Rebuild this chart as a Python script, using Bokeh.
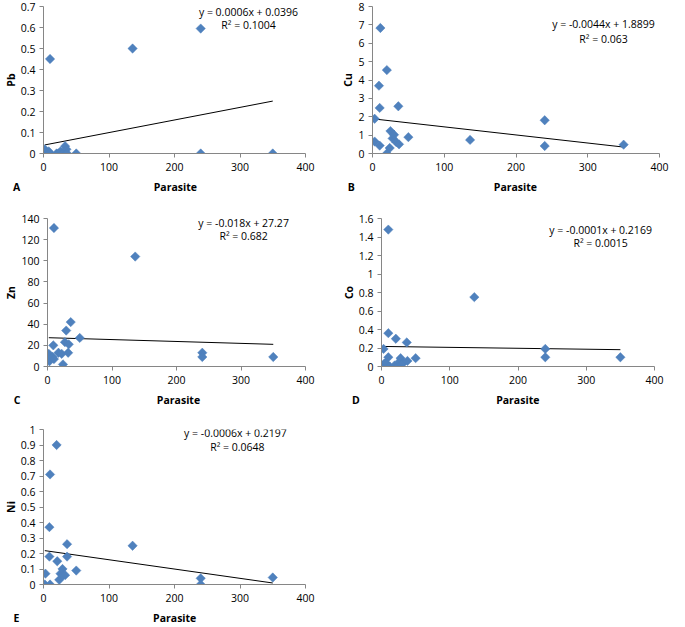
from math import pi
from bokeh.plotting import figure
from bokeh.layouts import column, row
from bokeh.models import Range1d, FixedTicker, NumeralTickFormatter, Label
from bokeh.embed import file_html
from bokeh.resources import INLINE

# ---------------- data ----------------
pb_x = [2, 3, 8, 10, 10, 20, 23, 26, 29, 33, 35, 36, 50, 136, 240, 240, 350]
pb_y = [0.02, 0, 0.01, 0.45, 0, 0, 0, 0.01, 0, 0.035, 0.02, 0, 0, 0.5, 0.595, 0, 0]

cu_x = [3, 3, 9, 10, 10, 11, 20, 20, 24, 25, 28, 30, 33, 36, 37, 50, 136, 240, 240, 350]
cu_y = [1.89, 0.65, 3.69, 2.48, 0.43, 6.83, 4.54, 0, 0.3, 1.22, 0.82, 1.02, 0.62, 2.57, 0.5, 0.89, 0.74, 1.81, 0.41, 0.48]

zn_x = [2, 3, 8, 9, 10, 10, 17, 22, 24, 27, 29, 32, 33, 36, 50, 136, 240, 240, 350]
zn_y = [12, 5, 9, 20, 131, 7, 13, 12, 2, 23, 34, 13, 21, 42, 27, 104, 13, 9, 9]

co_x = [3, 4, 6, 10, 10, 10, 12, 19, 21, 24, 26, 28, 30, 32, 37, 38, 50, 136, 240, 240, 350]
co_y = [0.19, 0.03, 0.04, 1.48, 0.36, 0.1, 0, 0.01, 0.3, 0, 0.05, 0.09, 0.03, 0.04, 0.26, 0.06, 0.09, 0.75, 0.19, 0.1, 0.1]

ni_x = [2, 3, 9, 9, 10, 10, 20, 21, 24, 26, 29, 30, 33, 36, 36, 50, 136, 240, 240, 350]
ni_y = [0, 0.07, 0.37, 0.18, 0.71, 0, 0.9, 0.15, 0.03, 0.07, 0.1, 0.06, 0.06, 0.26, 0.18, 0.09, 0.25, 0.04, 0, 0.045]

x_ticks = [0, 100, 200, 300, 400]
y_ticks = [
    [0, 0.1, 0.2, 0.3, 0.4, 0.5, 0.6, 0.7],
    [0, 1, 2, 3, 4, 5, 6, 7, 8],
    [0, 20, 40, 60, 80, 100, 120, 140],
    [0, 0.2, 0.4, 0.6, 0.8, 1, 1.2, 1.4, 1.6],
    [0, 0.1, 0.2, 0.3, 0.4, 0.5, 0.6, 0.7, 0.8, 0.9, 1],
]
slopes = [0.0006, -0.0044, -0.018, -0.0001, -0.0006]
intercepts = [0.0396, 1.8899, 27.27, 0.2169, 0.2197]
equations = ["y = 0.0006x + 0.0396", "y = -0.0044x + 1.8899", "y = -0.018x + 27.27",
             "y = -0.0001x + 0.2169", "y = -0.0006x + 0.2197"]
r2_texts = ["R\u00b2 = 0.1004", "R\u00b2 = 0.063", "R\u00b2 = 0.682", "R\u00b2 = 0.0015", "R\u00b2 = 0.0648"]
metals = ["Pb", "Cu", "Zn", "Co", "Ni"]
letters = ["A", "B", "C", "D", "E"]
x_label = "Parasite"

FONT = "Open Sans"
BLUE = "#4F81BD"
AXIS = "#868686"
NB = "\u00a0"

def panel(i, xs, ys, w, h, bl, br, bt, bb, eq_pos, r2_pos, gap):
    p = figure(width=w, height=h, output_backend="svg", toolbar_location=None,
               x_range=Range1d(0, 400), y_range=Range1d(0, y_ticks[i][-1]),
               min_border_left=bl, min_border_right=br, min_border_top=bt, min_border_bottom=bb)
    p.outline_line_color = None
    p.xgrid.grid_line_color = None
    p.ygrid.grid_line_color = None
    p.background_fill_color = "white"
    p.border_fill_color = "white"
    p.xaxis.ticker = FixedTicker(ticks=x_ticks)
    p.yaxis.ticker = FixedTicker(ticks=y_ticks[i])
    p.yaxis.formatter = NumeralTickFormatter(format="0.[0]")
    p.xaxis.formatter = NumeralTickFormatter(format="0")
    for ax in (p.xaxis, p.yaxis):
        ax.axis_line_color = AXIS
        ax.major_tick_line_color = AXIS
        ax.minor_tick_line_color = None
        ax.major_tick_in = 0
        ax.major_tick_out = 4
        ax.major_label_text_font = FONT
        ax.major_label_text_font_size = "10.5px"
        ax.major_label_text_color = "#000000"
        ax.axis_label_text_font = FONT
        ax.axis_label_text_font_style = "bold"
        ax.axis_label_text_font_size = "10.5px"
        ax.axis_label_text_color = "#000000"
    p.xaxis.major_label_standoff = 5
    p.yaxis.major_label_standoff = 4
    # panel letter shares the x-axis title line, pushed to the left edge
    p.xaxis.axis_label = letters[i] + NB * gap[0] + x_label + NB * gap[1]
    p.xaxis.axis_label_standoff = 6
    p.yaxis.axis_label = metals[i]
    p.yaxis.axis_label_standoff = 0

    xmin, xmax = min(xs), max(xs)
    p.line([xmin, xmax], [slopes[i] * xmin + intercepts[i], slopes[i] * xmax + intercepts[i]],
           line_color="black", line_width=1)
    p.scatter(xs, ys, marker="square", size=6.6, angle=pi / 4,
              fill_color=BLUE, line_color=BLUE, line_width=0.5)

    p.add_layout(Label(x=eq_pos[0], y=eq_pos[1], text=equations[i], text_align="center",
                       text_baseline="middle", text_font=FONT, text_font_size="10.5px",
                       text_color="#000000"))
    p.add_layout(Label(x=r2_pos[0], y=r2_pos[1], text=r2_texts[i], text_align="center",
                       text_baseline="middle", text_font=FONT, text_font_size="10.5px",
                       text_color="#000000"))
    return p

# column 1 is 338 px wide, column 2 is 347 px wide
pA = panel(0, pb_x, pb_y, 338, 196, 43, 33, 3, 43,
           (313, 0.676), (313, 0.61), (49, 51))
pB = panel(1, cu_x, cu_y, 347, 196, 32, 26, 6, 43,
           (322, 7.06), (322, 6.22), (51, 54))
pC = panel(2, zn_x, zn_y, 338, 214, 47, 33, 21, 44,
           (304, 136), (304, 123), (50, 51))
pD = panel(3, co_x, co_y, 347, 214, 41, 31, 22, 44,
           (321, 1.48), (321, 1.33), (50, 53))
pE = panel(4, ni_x, ni_y, 338, 217, 43, 33, 19, 40,
           (293, 0.975), (296, 0.89), (49, 51))

layout = column(row(pA, pB, spacing=0), row(pC, pD, spacing=0), row(pE, spacing=0), spacing=0)

open("out.html", "w").write(file_html(layout, INLINE))
